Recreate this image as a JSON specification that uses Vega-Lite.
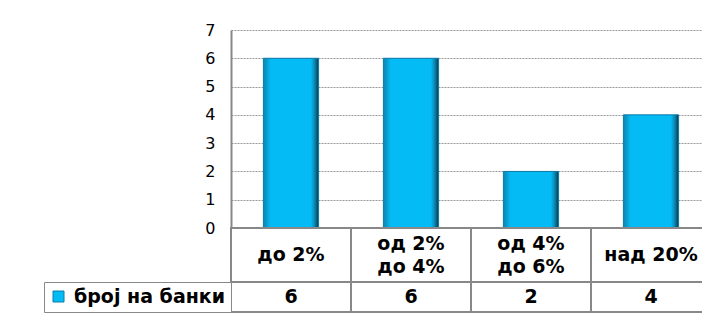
{
  "$schema": "https://vega.github.io/schema/vega-lite/v6.json",
  "padding": {"left": 43, "top": 22, "right": 0, "bottom": 0},
  "background": "white",
  "config": {"view": {"stroke": null}, "font": "DejaVu Sans"},
  "data": {"values": [
    {"range": "до 2%", "label": "до 2%", "count": 6, "series": "број на банки"},
    {"range": "од 2% до 4%", "label": "од 2%\nдо 4%", "count": 6, "series": "број на банки"},
    {"range": "од 4% до 6%", "label": "од 4%\nдо 6%", "count": 2, "series": "број на банки"},
    {"range": "над 20%", "label": "над 20%", "count": 4, "series": "број на банки"}
  ]},
  "spacing": 0,
  "bounds": "flush",
  "resolve": {"scale": {"x": "independent"}, "legend": {"color": "independent"}},
  "vconcat": [
    {
      "width": 480,
      "height": 198,
      "mark": {
        "type": "bar",
        "stroke": "#0b7aa6",
        "strokeWidth": 1,
        "color": {
          "gradient": "linear", "x1": 0, "x2": 1, "y1": 0, "y2": 0,
          "stops": [
            {"offset": 0, "color": "#0b86b4"},
            {"offset": 0.07, "color": "#099fd2"},
            {"offset": 0.13, "color": "#05bbf5"},
            {"offset": 0.86, "color": "#05bbf5"},
            {"offset": 0.93, "color": "#0a86b0"},
            {"offset": 1, "color": "#06384c"}
          ]
        }
      },
      "encoding": {
        "x": {"field": "range", "type": "nominal", "sort": null, "scale": {"paddingInner": 0.54, "paddingOuter": 0.27}, "axis": null},
        "y": {
          "field": "count", "type": "quantitative",
          "scale": {"domain": [0, 7], "nice": false},
          "axis": {
            "values": [0, 1, 2, 3, 4, 5, 6, 7], "title": null,
            "domainColor": "#888", "domainWidth": 2, "ticks": false,
            "labelFontSize": 16, "labelColor": "#000", "labelPadding": 16, "labelFont": "DejaVu Sans",
            "gridColor": "#999", "gridDash": [2, 1], "gridWidth": 1.2
          }
        }
      }
    },
    {
      "width": 480,
      "height": 54,
      "layer": [
        {
          "mark": {"type": "rect", "fill": "white", "stroke": "#888", "strokeWidth": 2},
          "encoding": {"x": {"field": "range", "type": "nominal", "sort": null, "axis": null, "scale": {"paddingInner": 0, "paddingOuter": 0}}}
        },
        {
          "transform": [{"filter": "indexof(datum.label, '\\n') < 0"}],
          "mark": {"type": "text", "fontSize": 19, "fontWeight": "bold", "font": "DejaVu Sans", "color": "#000"},
          "encoding": {
            "x": {"field": "range", "type": "nominal", "sort": null, "axis": null},
            "text": {"field": "label"}
          }
        },
        {
          "transform": [{"filter": "indexof(datum.label, '\\n') >= 0"}],
          "mark": {"type": "text", "fontSize": 19, "fontWeight": "bold", "lineBreak": "\n", "lineHeight": 23, "dy": -11.5, "font": "DejaVu Sans", "color": "#000"},
          "encoding": {
            "x": {"field": "range", "type": "nominal", "sort": null, "axis": null},
            "text": {"field": "label"}
          }
        }
      ]
    },
    {
      "width": 480,
      "height": 30,
      "layer": [
        {
          "mark": {"type": "rect", "fill": "white", "stroke": "#888", "strokeWidth": 2},
          "encoding": {"x": {"field": "range", "type": "nominal", "sort": null, "axis": null, "scale": {"paddingInner": 0, "paddingOuter": 0}}}
        },
        {
          "mark": {"type": "text", "fontSize": 19, "fontWeight": "bold", "font": "DejaVu Sans", "color": "#000"},
          "encoding": {
            "x": {"field": "range", "type": "nominal", "sort": null, "axis": null},
            "text": {"field": "count"}
          }
        },
        {
          "mark": {"type": "rect", "opacity": 0},
          "encoding": {
            "color": {
              "field": "series", "type": "nominal",
              "scale": {"range": ["#05bbf5"]},
              "legend": {
                "orient": "left", "title": null, "offset": 0, "padding": 5,
                "symbolType": "square", "symbolSize": 121, "symbolOpacity": 1,
                "symbolStrokeColor": "#0a7fa8", "symbolStrokeWidth": 1, "symbolOffset": 0,
                "labelOffset": 6, "labelFontSize": 19, "labelFontWeight": "bold", "labelFont": "DejaVu Sans",
                "labelColor": "#000", "labelLimit": 300,
                "strokeColor": "#888", "fillColor": "white"
              }
            }
          }
        }
      ]
    }
  ]
}
